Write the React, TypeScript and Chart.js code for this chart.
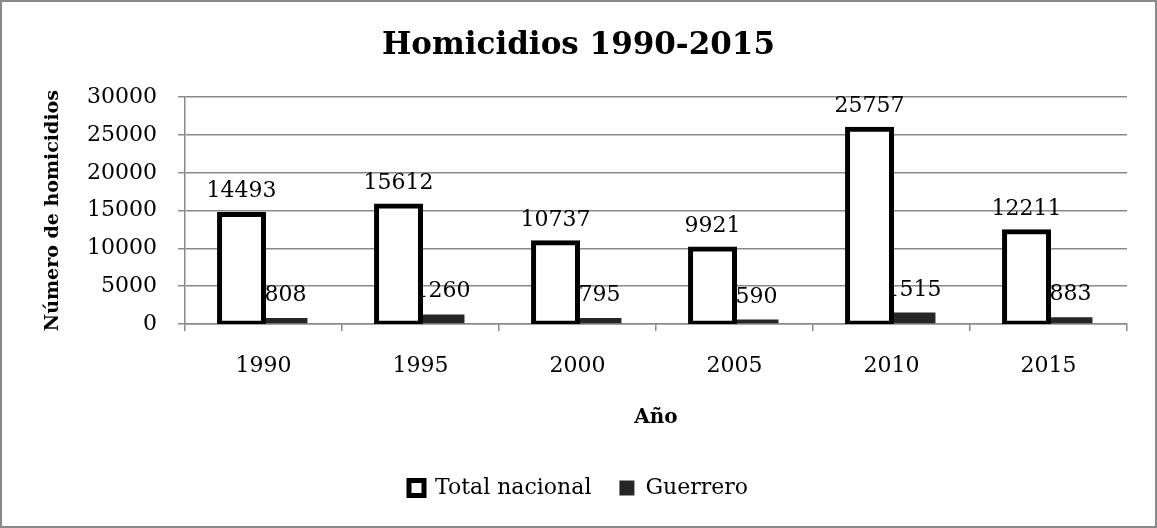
import React, { useEffect, useRef } from 'react';
import { Chart, registerables } from 'chart.js';

Chart.register(...registerables);

const years = ['1990', '1995', '2000', '2005', '2010', '2015'];
const totalNacional = [14493, 15612, 10737, 9921, 25757, 12211];
const guerrero = [808, 1260, 795, 590, 1515, 883];
const yMin = 0;
const yMax = 30000;
const yStep = 5000;

const FONT = "'DejaVu Serif'";
const GRID = '#8a8a8a';

const valueLabels = {
  id: 'valueLabels',
  beforeDatasetsDraw(chart: any) {
    const ctx = chart.ctx;
    ctx.save();
    ctx.font = `22px ${FONT}`;
    ctx.fillStyle = '#000';
    ctx.textAlign = 'center';
    ctx.textBaseline = 'alphabetic';
    chart.data.datasets.forEach((ds: any, di: number) => {
      const meta = chart.getDatasetMeta(di);
      meta.data.forEach((el: any, i: number) => {
        ctx.fillText(String(ds.data[i]), el.x, el.y - 17);
      });
    });
    ctx.restore();
  },
};

const frame = {
  id: 'frame',
  afterDraw(chart: any) {
    const ctx = chart.ctx;
    ctx.save();
    ctx.strokeStyle = '#898989';
    ctx.lineWidth = 2;
    ctx.strokeRect(1, 1, chart.width - 2, chart.height - 2);
    ctx.restore();
  },
};

export default function App() {
  const ref = useRef<HTMLCanvasElement>(null);
  useEffect(() => {
    if (!ref.current) return;
    const chart = new Chart(ref.current, {
      type: 'bar',
      data: {
        labels: years,
        datasets: [
          {
            label: 'Total nacional',
            data: totalNacional,
            backgroundColor: '#ffffff',
            borderColor: '#000000',
            borderWidth: 5,
            borderSkipped: false,
            inflateAmount: 2.5,
            categoryPercentage: 0.56,
            barPercentage: 1,
          },
          {
            label: 'Guerrero',
            data: guerrero,
            backgroundColor: '#262626',
            borderColor: '#262626',
            borderWidth: 0,
            inflateAmount: 0,
            categoryPercentage: 0.56,
            barPercentage: 1,
          },
        ],
      } as any,
      options: {
        responsive: false,
        animation: false,
        layout: { padding: { top: 0, right: 0, bottom: 19, left: 0 } },
        plugins: {
          title: {
            display: true,
            text: 'Homicidios 1990-2015',
            color: '#000',
            font: { family: FONT, size: 31, weight: 'bold' },
            padding: { top: 27, bottom: 33 },
          },
          legend: {
            position: 'bottom',
            labels: {
              color: '#000',
              font: { family: FONT, size: 22 },
              boxWidth: 15,
              boxHeight: 15,
              padding: 28,
            },
          },
          tooltip: { enabled: false },
        },
        scales: {
          x: {
            offset: true,
            grid: {
              offset: true,
              drawOnChartArea: false,
              drawTicks: true,
              tickLength: 7,
              color: GRID,
              lineWidth: 1.5,
            },
            border: { display: true, color: GRID, width: 1.5 },
            ticks: { color: '#000', font: { family: FONT, size: 22 }, padding: 22 },
            title: {
              display: true,
              text: 'Año',
              color: '#000',
              font: { family: FONT, size: 20, weight: 'bold' },
              padding: { top: 0, bottom: 19 },
            },
            afterFit: (s: any) => {
              s.height = 125;
            },
          },
          y: {
            min: yMin,
            max: yMax,
            ticks: {
              stepSize: yStep,
              color: '#000',
              font: { family: FONT, size: 22 },
              padding: 21,
              callback: (v: any) => String(v),
            },
            grid: { color: GRID, lineWidth: 1.5, tickLength: 7 },
            border: { display: true, color: GRID, width: 1.5 },
            title: {
              display: true,
              text: 'Número de homicidios',
              color: '#000',
              font: { family: FONT, size: 19, weight: 'bold' },
              padding: { top: 42, bottom: 0 },
            },
            afterFit: (s: any) => {
              s.width = 185;
            },
          },
          yRight: {
            position: 'right',
            display: true,
            grid: { display: false, drawTicks: false },
            border: { display: false },
            ticks: { display: false },
            afterFit: (s: any) => {
              s.width = 30;
            },
          },
        },
      } as any,
      plugins: [valueLabels, frame],
    });
    return () => chart.destroy();
  }, []);
  return (
    <div style={{ position: 'fixed', left: 0, top: 0, width: 1157, height: 528, background: '#fff' }}>
      <canvas ref={ref} width={1157} height={528} style={{ display: 'block' }} />
    </div>
  );
}
